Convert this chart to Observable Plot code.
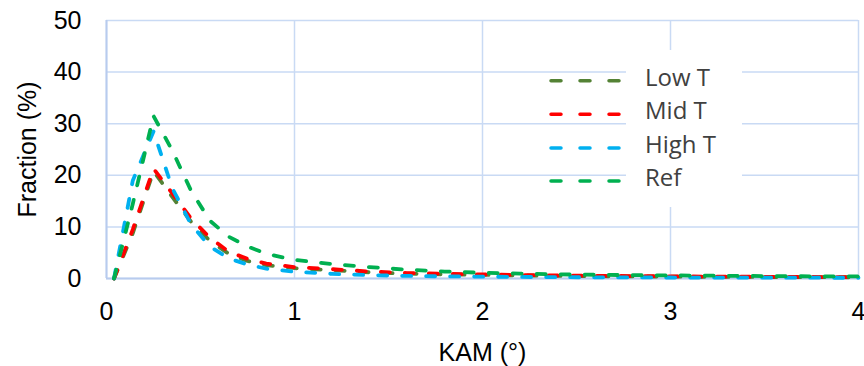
<!DOCTYPE html>
<html>
<head>
<meta charset="utf-8">
<script src="https://cdn.jsdelivr.net/npm/d3@7"></script>
<script src="https://cdn.jsdelivr.net/npm/@observablehq/plot@0.6"></script>
<style>
  html, body { margin: 0; padding: 0; background: #fff; }
  #wrap { position: relative; width: 864px; height: 366px; }
  #legend { position: absolute; left: 0; top: 0; width: 864px; height: 366px; pointer-events: none; }
  #wrap > svg { overflow: visible; }
</style>
</head>
<body>
<div id="wrap"></div>
<script>
// KAM (°) bin positions
const kam = [0.04, 0.14, 0.25, 0.35, 0.45, 0.55, 0.65, 0.75, 0.85, 1.0, 1.2, 1.4, 1.6, 1.8, 2.0, 2.2, 2.4, 2.6, 2.8, 3.0, 3.2, 3.4, 3.6, 3.8, 4.0];
// Fraction (%) per series
const lowT  = [0, 8.8, 20.8, 15.8, 11.0, 7.3, 4.8, 3.4, 2.6, 2.0, 1.6, 1.2, 0.95, 0.8, 0.7, 0.6, 0.5, 0.45, 0.4, 0.36, 0.32, 0.3, 0.28, 0.26, 0.24];
const midT  = [0, 9.5, 21.3, 16.5, 11.6, 7.9, 5.2, 3.8, 2.9, 2.2, 1.8, 1.35, 1.05, 0.9, 0.78, 0.68, 0.58, 0.52, 0.47, 0.42, 0.37, 0.34, 0.31, 0.28, 0.25];
const highT = [0, 19.0, 28.5, 17.5, 10.5, 6.2, 3.9, 2.7, 1.9, 1.3, 0.9, 0.65, 0.5, 0.42, 0.36, 0.3, 0.26, 0.23, 0.21, 0.19, 0.18, 0.17, 0.16, 0.15, 0.15];
const ref   = [0, 14.5, 31.5, 24.8, 17.0, 11.2, 8.1, 6.2, 4.8, 3.6, 2.8, 2.2, 1.7, 1.35, 1.1, 0.95, 0.8, 0.72, 0.65, 0.6, 0.55, 0.5, 0.45, 0.42, 0.4];

const seriesNames = ["Low T", "Mid T", "High T", "Ref"];
const seriesValues = [lowT, midT, highT, ref];
const seriesColors = ["#548235", "#ff0000", "#00b0f0", "#00b050"];

const xTicks = [0, 1, 2, 3, 4];
const yTicks = [0, 10, 20, 30, 40, 50];

const data = seriesNames.flatMap((name, i) =>
  kam.map((k, j) => ({series: name, kam: k, frac: seriesValues[i][j]})));

const gridColor = "#c9daf4";
const axisColor = "#b8cbee";

const chart = Plot.plot({
  width: 864,
  height: 366,
  marginLeft: 106,
  marginRight: 6,
  marginTop: 20,
  marginBottom: 88,
  style: {fontFamily: "'Liberation Sans', Arial, sans-serif", fontSize: "25px", color: "#000", background: "#fff", overflow: "visible"},
  x: {domain: [0, 4]},
  y: {domain: [0, 50]},
  color: {domain: seriesNames, range: seriesColors},
  marks: [
    Plot.gridX(xTicks, {stroke: gridColor, strokeOpacity: 1, strokeWidth: 1.5}),
    Plot.gridY(yTicks, {stroke: gridColor, strokeOpacity: 1, strokeWidth: 1.5}),
    Plot.ruleX([0], {stroke: axisColor, strokeWidth: 2}),
    Plot.ruleY([0], {stroke: axisColor, strokeWidth: 2}),
    ...seriesNames.map((name, i) =>
      Plot.line(data.filter(d => d.series === name), {
        x: "kam", y: "frac", stroke: seriesColors[i], strokeWidth: 3.8,
        strokeDasharray: "9,15", strokeLinecap: "round", strokeLinejoin: "round"
      })),
    Plot.axisX(xTicks, {tickSize: 0, tickPadding: 24, fontSize: 25, tickFormat: d3.format("d"), label: "KAM (°)", labelArrow: false, labelAnchor: "center", labelOffset: 82}),
    Plot.axisY(yTicks, {tickSize: 0, tickPadding: 25, fontSize: 25, tickFormat: d3.format("d"), label: "Fraction (%)", labelArrow: false, labelAnchor: "center", labelOffset: 88})
  ]
});

const wrap = document.getElementById("wrap");
wrap.appendChild(chart);

// Legend overlay
const ns = "http://www.w3.org/2000/svg";
const leg = document.createElementNS(ns, "svg");
leg.setAttribute("id", "legend");
leg.setAttribute("width", 864);
leg.setAttribute("height", 366);
const box = document.createElementNS(ns, "rect");
box.setAttribute("x", 626); box.setAttribute("y", 50);
box.setAttribute("width", 116); box.setAttribute("height", 157);
box.setAttribute("fill", "#fff");
leg.appendChild(box);
const rowY = [80.7, 114.3, 148, 181];
seriesNames.forEach((name, i) => {
  const ln = document.createElementNS(ns, "line");
  ln.setAttribute("x1", 551); ln.setAttribute("x2", 619);
  ln.setAttribute("y1", rowY[i]); ln.setAttribute("y2", rowY[i]);
  ln.setAttribute("stroke", seriesColors[i]);
  ln.setAttribute("stroke-width", 3.5);
  ln.setAttribute("stroke-linecap", "round");
  ln.setAttribute("stroke-dasharray", "10,19");
  leg.appendChild(ln);
  const t = document.createElementNS(ns, "text");
  t.setAttribute("x", 645); t.setAttribute("y", rowY[i] - 1.5);
  t.setAttribute("dominant-baseline", "middle");
  t.setAttribute("font-family", "'Open Sans', 'Noto Sans', sans-serif");
  t.setAttribute("font-size", 24);
  t.setAttribute("fill", "#404040");
  t.textContent = name;
  leg.appendChild(t);
});
wrap.appendChild(leg);
</script>
</body>
</html>
